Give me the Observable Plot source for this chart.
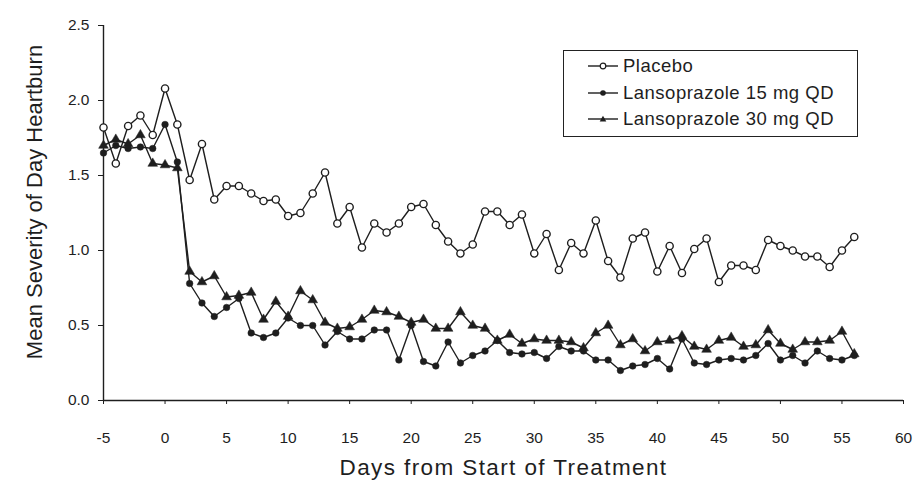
<!DOCTYPE html>
<html><head><meta charset="utf-8">
<script src="https://cdn.jsdelivr.net/npm/d3@7"></script>
<script src="https://cdn.jsdelivr.net/npm/@observablehq/plot@0.6"></script>
<style>
body{margin:0;background:#fff;font-family:"Liberation Sans",Arial,sans-serif;color:#1e1e1e;}
#wrap{position:relative;width:914px;height:487px;}
#legend{position:absolute;left:563px;top:50px;width:295px;height:87px;border:1.5px solid #222;box-sizing:border-box;background:#fff;padding-top:2px;}
.row{display:flex;align-items:center;height:26.5px;font-size:18.5px;letter-spacing:0.5px;padding-left:24px;}
.row svg{margin-right:5px;}
</style>
</head><body>
<div id="wrap"></div>
<script>
const days = [-5,-4,-3,-2,-1,0,1,2,3,4,5,6,7,8,9,10,11,12,13,14,15,16,17,18,19,20,21,22,23,24,25,26,27,28,29,30,31,32,33,34,35,36,37,38,39,40,41,42,43,44,45,46,47,48,49,50,51,52,53,54,55,56];
const placebo = [1.82,1.58,1.83,1.90,1.77,2.08,1.84,
  1.47,1.71,1.34,1.43,1.43,1.38,1.33,
  1.34,1.23,1.25,1.38,1.52,1.18,1.29,
  1.02,1.18,1.12,1.18,1.29,1.31,1.17,
  1.06,0.98,1.04,1.26,1.26,1.17,1.24,
  0.98,1.11,0.87,1.05,0.98,1.20,0.93,
  0.82,1.08,1.12,0.86,1.03,0.85,1.01,
  1.08,0.79,0.90,0.90,0.87,1.07,1.03,
  1.00,0.96,0.96,0.89,1.00,1.09];
const lanso15 = [1.65,1.70,1.68,1.69,1.68,1.84,1.59,
  0.78,0.65,0.56,0.62,0.68,0.45,0.42,
  0.45,0.55,0.50,0.50,0.37,0.46,0.41,
  0.41,0.47,0.47,0.27,0.50,0.26,0.23,
  0.39,0.25,0.30,0.33,0.40,0.32,0.31,
  0.32,0.28,0.36,0.33,0.33,0.27,0.27,
  0.20,0.23,0.24,0.28,0.21,0.41,0.25,
  0.24,0.27,0.28,0.27,0.30,0.38,0.27,
  0.30,0.25,0.33,0.28,0.27,0.30];
const lanso30 = [1.70,1.74,1.71,1.77,1.58,1.57,1.55,
  0.86,0.79,0.83,0.69,0.70,0.72,0.54,
  0.66,0.56,0.73,0.67,0.52,0.48,0.49,
  0.54,0.60,0.59,0.56,0.52,0.54,0.48,
  0.48,0.59,0.50,0.48,0.40,0.44,0.38,
  0.41,0.40,0.40,0.39,0.35,0.45,0.50,
  0.37,0.41,0.33,0.39,0.40,0.43,0.36,
  0.34,0.40,0.42,0.36,0.37,0.47,0.38,
  0.34,0.39,0.39,0.40,0.46,0.31];
const xTicks = [-5,0,5,10,15,20,25,30,35,40,45,50,55,60];
const yTicks = [0,0.5,1.0,1.5,2.0,2.5];
const seriesNames = ["Placebo","Lansoprazole 15 mg QD","Lansoprazole 30 mg QD"];
const xLabel = "Days from Start of Treatment";
const yLabel = "Mean Severity of Day Heartburn";

const rows = days.map((d,i)=>({day:d, p:placebo[i], a:lanso15[i], b:lanso30[i]}));
const ink = "#1e1e1e";

const chart = Plot.plot({
  width:914, height:487,
  marginLeft:103, marginRight:11, marginTop:25, marginBottom:87,
  style:{fontFamily:"'Liberation Sans', Arial, sans-serif", fontSize:"15.5px", color:ink, background:"white"},
  x:{domain:[-5,60]},
  y:{domain:[0,2.5]},
  marks:[
    Plot.axisX({ticks:xTicks, tickSize:4, tickPadding:27, label:null, tickFormat:d=>String(d), fontSize:15.5}),
    Plot.axisY({ticks:yTicks, tickSize:5, tickPadding:9, label:null, tickFormat:d3.format(".1f"), fontSize:15.5}),
    Plot.ruleX([-5], {stroke:ink, strokeWidth:1.4}),
    Plot.ruleY([0], {stroke:ink, strokeWidth:1.4}),
    Plot.line(rows,{x:"day", y:"b", stroke:ink, strokeWidth:1.4}),
    Plot.line(rows,{x:"day", y:"a", stroke:ink, strokeWidth:1.4}),
    Plot.line(rows,{x:"day", y:"p", stroke:ink, strokeWidth:1.4}),
    Plot.dot(rows,{x:"day", y:"b", symbol:"triangle", r:3.6, fill:ink, stroke:ink, strokeWidth:0.5}),
    Plot.dot(rows,{x:"day", y:"a", r:3.3, fill:ink, stroke:ink, strokeWidth:0.5}),
    Plot.dot(rows,{x:"day", y:"p", r:3.6, fill:"white", stroke:ink, strokeWidth:1.4}),
    Plot.text([xLabel], {frameAnchor:"bottom", dy:74, fontSize:22.5, fill:ink}),
    Plot.text([yLabel], {frameAnchor:"left", textAnchor:"middle", rotate:-90, dx:-69, dy:-11, fontSize:22, fill:ink})
  ]
});
const wrap = document.getElementById("wrap");
wrap.appendChild(chart);
chart.querySelectorAll("text").forEach(t => {
  if (t.textContent === xLabel) t.style.letterSpacing = "1.4px";
});

const sym = [
  '<circle cx="15" cy="6" r="2.8" fill="white" stroke="#1e1e1e" stroke-width="1.2"/>',
  '<circle cx="15" cy="6" r="2.8" fill="#1e1e1e"/>',
  '<path d="M15,2.8 L18.3,8.6 L11.7,8.6 Z" fill="#1e1e1e"/>'
];
const legend = document.createElement("div");
legend.id = "legend";
legend.innerHTML = seriesNames.map((n,i)=>
  `<div class="row"><svg width="30" height="12"><line x1="0" x2="30" y1="6" y2="6" stroke="#1e1e1e" stroke-width="1.4"/>${sym[i]}</svg><span>${n}</span></div>`
).join("");
wrap.appendChild(legend);
</script>
</body></html>
